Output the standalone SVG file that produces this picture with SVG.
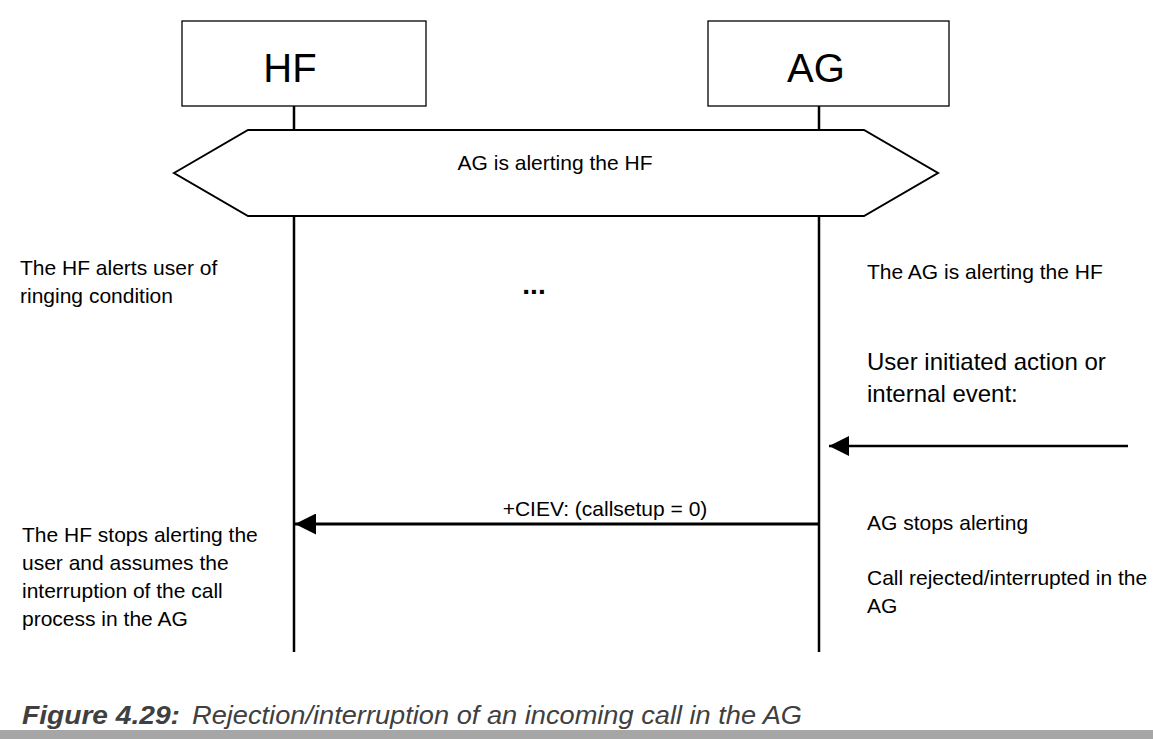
<svg xmlns="http://www.w3.org/2000/svg" width="1153" height="739" viewBox="0 0 1153 739">
<defs>
<style>
text{font-family:"Liberation Sans",Arial,sans-serif;fill:#000}
.t{font-size:21px}
.big{font-size:24px}
.hdr{font-size:40px;text-anchor:middle}
.box{fill:#fff;stroke:#000;stroke-width:1.3}
.life{stroke:#000;stroke-width:2.5;fill:none}
.msg{stroke:#000;stroke-width:3;fill:none}
</style>
<marker id="ah" viewBox="0 0 10 10" refX="10" refY="5" markerWidth="7" markerHeight="7" markerUnits="strokeWidth" orient="auto">
<path d="M0,0 L10,5 L0,10 Z" fill="#000"/>
</marker>
<marker id="ah2" viewBox="0 0 10 10" refX="10" refY="5" markerWidth="10" markerHeight="8" markerUnits="strokeWidth" orient="auto">
<path d="M0,0 L10,5 L0,10 Z" fill="#000"/>
</marker>
</defs>
<rect width="1153" height="739" fill="#fff"/>
<g id="lifelines">
<line class="life" x1="294" y1="106" x2="294" y2="130"/>
<line class="life" x1="819" y1="106" x2="819" y2="130"/>
<line class="life" x1="294" y1="216" x2="294" y2="652"/>
<line class="life" x1="819" y1="216" x2="819" y2="652"/>
</g>
<g id="node-HF">
<rect class="box" x="182" y="21" width="244" height="85"/>
<text class="hdr" x="290" y="82">HF</text>
</g>
<g id="node-AG">
<rect class="box" x="708" y="21" width="241" height="85"/>
<text class="hdr" x="816" y="82">AG</text>
</g>
<g id="state-alerting">
<polygon points="174,173 248,130 864,130 938,173 864,216 248,216" fill="#fff" stroke="#000" stroke-width="2"/>
<text class="t" x="555" y="170" text-anchor="middle">AG is alerting the HF</text>
</g>
<g id="notes">
<text class="t" x="20" y="275">The HF alerts user of</text>
<text class="t" x="20" y="303">ringing condition</text>
<text x="534" y="294" font-size="28" font-weight="bold" text-anchor="middle">...</text>
<text class="t" x="867" y="279">The AG is alerting the HF</text>
<text class="big" x="867" y="370">User initiated action or</text>
<text class="big" x="867" y="402">internal event:</text>
<text class="t" x="867" y="530">AG stops alerting</text>
<text class="t" x="867" y="585">Call rejected/interrupted in the</text>
<text class="t" x="867" y="613">AG</text>
<text class="t" x="22" y="542">The HF stops alerting the</text>
<text class="t" x="22" y="570">user and assumes the</text>
<text class="t" x="22" y="598">interruption of the call</text>
<text class="t" x="22" y="626">process in the AG</text>
</g>
<g id="connectors">
<line x1="1128" y1="446" x2="829" y2="446" stroke="#000" stroke-width="2.5" marker-end="url(#ah2)"/>
<line class="msg" x1="819" y1="524" x2="295" y2="524" marker-end="url(#ah)"/>
<text class="t" x="605" y="516" text-anchor="middle">+CIEV: (callsetup = 0)</text>
</g>
<g id="caption">
<text x="22" y="724" font-size="25" font-style="italic" font-weight="bold" style="fill:#404040" textLength="158" lengthAdjust="spacingAndGlyphs">Figure 4.29:</text>
<text x="192" y="724" font-size="25" font-style="italic" style="fill:#404040" textLength="610" lengthAdjust="spacingAndGlyphs">Rejection/interruption of an incoming call in the AG</text>
<rect x="0" y="730" width="1153" height="9" fill="#a6a6a6"/>
</g>
</svg>
